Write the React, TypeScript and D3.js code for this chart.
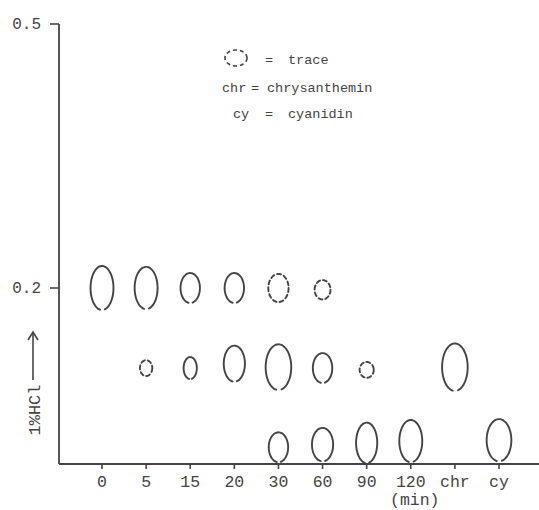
import { useMemo } from 'react';
import * as d3 from 'd3';

// lanes on the chromatogram (time in 1% HCl, then references)
const lanes = ['0', '5', '15', '20', '30', '60', '90', '120', 'chr', 'cy'];
const yTicks = [0.5, 0.2];

// spots: lane, Rf, half height (Rf units), half width (fraction of lane step), trace?
const spotLane = ['0', '5', '15', '20', '30', '60', '5', '15', '20', '30', '60', '90', 'chr', '30', '60', '90', '120', 'cy'];
const spotRf = [0.2, 0.2, 0.2, 0.2, 0.2, 0.198, 0.109, 0.109, 0.114, 0.11, 0.109, 0.107, 0.11, 0.019, 0.022, 0.024, 0.026, 0.027];
const spotH = [0.025, 0.024, 0.017, 0.017, 0.016, 0.011, 0.009, 0.0125, 0.0205, 0.026, 0.017, 0.009, 0.027, 0.017, 0.019, 0.023, 0.024, 0.024];
const spotW = [0.26, 0.26, 0.22, 0.22, 0.23, 0.18, 0.14, 0.15, 0.24, 0.29, 0.22, 0.16, 0.29, 0.22, 0.24, 0.24, 0.26, 0.28];
const spotTrace = [false, false, false, false, true, true, true, false, false, false, false, true, false, false, false, false, false, false];

const legendKeys = ['', 'chr', 'cy'];
const legendValues = ['trace', 'chrysanthemin', 'cyanidin'];

const ink = '#444';
const font = '"Liberation Mono", "Courier New", monospace';

// open ellipse outline, gap at the bottom like the hand-drawn spots
function spotPath(cx: number, cy: number, rx: number, ry: number, closed: boolean) {
    const start = closed ? 0 : 100;
    const end = closed ? 360 : 440;
    const pts = d3.range(start, end + 1, 6).map(a => {
        const t = (a * Math.PI) / 180;
        return [cx + rx * Math.cos(t), cy + ry * Math.sin(t)] as [number, number];
    });
    return d3.line().curve(d3.curveCardinal)(pts) || '';
}

export default function App() {
    const width = 539;
    const height = 510;

    const x = useMemo(() => d3.scalePoint<string>().domain(lanes).range([102, 499]), []);
    const y = useMemo(() => d3.scaleLinear().domain([0, 0.5]).range([464, 24]), []);
    const axisX = 59;
    const base = y(0);
    const step = x.step();

    return (
        <svg width={width} height={height} style={{ position: 'absolute', left: 0, top: 0, background: '#fff' }}>
            {/* axes */}
            <line x1={axisX} x2={width} y1={base} y2={base} stroke={ink} strokeWidth={1.8} />
            <line x1={axisX} x2={axisX} y1={y(0.5)} y2={base} stroke={ink} strokeWidth={1.8} />
            {yTicks.map(t => (
                <g key={t}>
                    <line x1={axisX - 9} x2={axisX} y1={y(t)} y2={y(t)} stroke={ink} strokeWidth={1.6} />
                    <text x={41} y={y(t) + 5} textAnchor="end" fontFamily={font} fontSize={16} fill={ink}>
                        {t.toFixed(1)}
                    </text>
                </g>
            ))}
            {lanes.map(l => (
                <g key={l}>
                    <line x1={x(l)} x2={x(l)} y1={base} y2={base + 5} stroke={ink} strokeWidth={1.6} />
                    <text x={x(l)} y={base + 23} textAnchor="middle" fontFamily={font} fontSize={16.5} fill={ink}>
                        {l}
                    </text>
                </g>
            ))}
            <text x={(x('120') as number) + 4} y={505} textAnchor="middle" fontFamily={font} fontSize={16.5} fill={ink}>
                (min)
            </text>

            {/* y label with arrow */}
            <text
                transform={`translate(34,410) rotate(-90)`}
                textAnchor="middle"
                dy="0.35em"
                fontFamily={font}
                fontSize={17}
                fill={ink}
            >
                1%HCl
            </text>
            <line x1={33} x2={33} y1={380} y2={333} stroke={ink} strokeWidth={1.6} />
            <path d="M28,340 L33,332 L38,340" fill="none" stroke={ink} strokeWidth={1.6} />

            {/* spots */}
            {spotLane.map((l, i) => {
                const cx = x(l) as number;
                const cy = y(spotRf[i]);
                const ry = base - y(spotH[i]);
                const rx = spotW[i] * step;
                return (
                    <path
                        key={i}
                        d={spotPath(cx, cy, rx, ry, spotTrace[i])}
                        fill="none"
                        stroke={ink}
                        strokeWidth={1.9}
                        strokeDasharray={spotTrace[i] ? '4,3' : undefined}
                        strokeLinecap="round"
                    />
                );
            })}

            {/* legend */}
            <path d={spotPath(236, 58, 11, 8, true)} fill="none" stroke={ink} strokeWidth={1.6} strokeDasharray="4,3" />
            <text fontFamily={font} fontSize={13.5} fill={ink}>
                <tspan x={265} y={64}>=</tspan>
                <tspan x={288} y={64}>{legendValues[0]}</tspan>
            </text>
            <text fontFamily={font} fontSize={13.5} fill={ink}>
                <tspan x={222} y={92}>{legendKeys[1]}</tspan>
                <tspan x={251} y={92}>=</tspan>
                <tspan x={267} y={92}>{legendValues[1]}</tspan>
            </text>
            <text fontFamily={font} fontSize={13.5} fill={ink}>
                <tspan x={233} y={118}>{legendKeys[2]}</tspan>
                <tspan x={265} y={118}>=</tspan>
                <tspan x={288} y={118}>{legendValues[2]}</tspan>
            </text>
        </svg>
    );
}
